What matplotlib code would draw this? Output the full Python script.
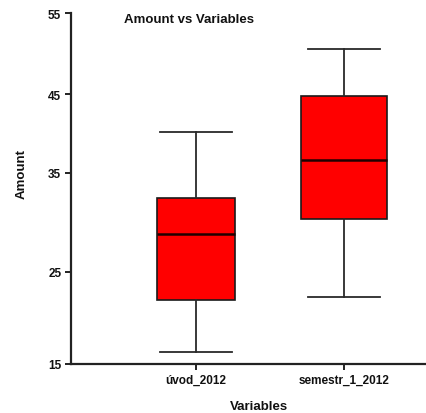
import numpy as np
import matplotlib
matplotlib.use('Agg')
import matplotlib.pyplot as plt

plt.rcParams['font.family'] = ['Liberation Sans', 'DejaVu Sans']

categories = ['úvod_2012', 'semestr_1_2012']
whislo = [16.3, 22.3]
q1 = [21.9, 30.3]
med = [28.8, 36.6]
q3 = [32.5, 44.7]
whishi = [40.2, 50.6]
yticks = [15, 25, 35, 45, 55]

# rendering positions (px above axis bottom) reproducing the reference's uneven tick spacing
tick_pos = [0.0, 92.3, 191.0, 270.0, 350.7]


def _pl(x, xp, fp):
    x = np.asarray(x, dtype=float)
    xp = np.asarray(xp, dtype=float)
    fp = np.asarray(fp, dtype=float)
    y = np.interp(x, xp, fp)
    y = np.where(x < xp[0], fp[0] + (x - xp[0]) * (fp[1] - fp[0]) / (xp[1] - xp[0]), y)
    y = np.where(x > xp[-1], fp[-1] + (x - xp[-1]) * (fp[-1] - fp[-2]) / (xp[-1] - xp[-2]), y)
    return y


def fwd(v):
    return _pl(v, yticks, tick_pos)


def inv(p):
    return _pl(p, tick_pos, yticks)


W, H = 426, 414
fig = plt.figure(figsize=(W / 100, H / 100), dpi=100)
ax = fig.add_axes([71 / W, (H - 365) / H, (W - 71) / W, 350.7 / H])

stats = []
for i in range(len(categories)):
    stats.append(dict(med=med[i], q1=q1[i], q3=q3[i], whislo=whislo[i],
                      whishi=whishi[i], fliers=[], label=categories[i]))

ax.bxp(stats, positions=[1, 2], widths=[0.53, 0.58], capwidths=[0.49, 0.49],
       patch_artist=True, showfliers=False,
       boxprops=dict(facecolor='#ff0000', edgecolor='#1a1a1a', linewidth=1.2),
       medianprops=dict(color='#200000', linewidth=1.8),
       whiskerprops=dict(color='#2a2a2a', linewidth=1.3),
       capprops=dict(color='#2a2a2a', linewidth=1.3))

ax.set_yscale('function', functions=(fwd, inv))
ax.set_ylim(15, 55)
ax.set_xlim(0.155, 2.554)
ax.set_yticks(yticks)
ax.set_yticklabels([str(t) for t in yticks])
ax.set_xticks([1, 2])
ax.set_xticklabels(categories)
ax.minorticks_off()

for s in ['top', 'right']:
    ax.spines[s].set_visible(False)
for s in ['left', 'bottom']:
    ax.spines[s].set_linewidth(1.6)
    ax.spines[s].set_color('#222222')

ax.tick_params(direction='out', length=4, width=1.4, colors='#222222', pad=3)
for lab in ax.get_xticklabels() + ax.get_yticklabels():
    lab.set_fontsize(8.5)
    lab.set_fontweight('bold')
    lab.set_color('#111111')

fig.text(189 / W, 1 - 20 / H, 'Amount vs Variables', ha='center', va='center',
         fontsize=9.5, fontweight='bold', color='#111111')
fig.text(22 / W, 1 - 174 / H, 'Amount', ha='center', va='center', rotation=90,
         fontsize=9.5, fontweight='bold', color='#111111')
fig.text(259 / W, 1 - 407 / H, 'Variables', ha='center', va='center',
         fontsize=9.5, fontweight='bold', color='#111111')

fig.savefig('out.png', dpi=100)
